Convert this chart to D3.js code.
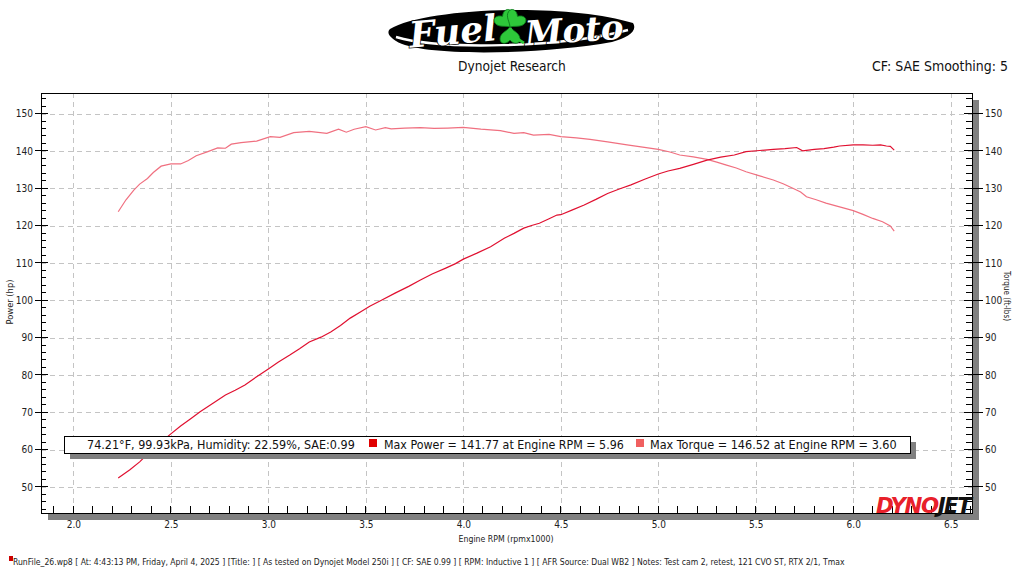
<!DOCTYPE html>
<html><head><meta charset="utf-8">
<script src="https://cdn.jsdelivr.net/npm/d3@7"></script>
<style>body{margin:0;background:#fff}svg{display:block}</style>
</head><body>
<svg id="c" width="1024" height="576"></svg>
<script>
// ---- DATA ----
const rpmPower = [2.23,2.29,2.34,2.40,2.46,2.50,2.55,2.60,2.65,2.72,2.78,2.83,2.88,2.94,3.00,3.05,3.11,3.16,3.21,3.27,3.32,3.37,3.42,3.47,3.52,3.58,3.65,3.72,3.78,3.84,3.91,3.96,4.00,4.07,4.14,4.21,4.26,4.31,4.35,4.39,4.44,4.48,4.50,4.56,4.62,4.68,4.74,4.80,4.86,4.93,5.00,5.05,5.11,5.18,5.25,5.32,5.39,5.45,5.52,5.59,5.65,5.71,5.74,5.80,5.85,5.90,5.93,6.00,6.05,6.10,6.14,6.17,6.19,6.21];
const powerHp  = [52.4,54.6,56.7,59.8,62.4,64.2,66.3,68.2,70.1,72.5,74.6,75.9,77.3,79.5,81.6,83.4,85.3,87.0,88.8,90.1,91.5,93.2,95.2,96.8,98.4,100.0,101.9,103.7,105.4,107.0,108.6,109.8,111.0,112.6,114.3,116.6,117.9,119.3,120.0,120.6,121.8,122.8,122.9,124.2,125.5,127.0,128.6,129.8,130.9,132.4,133.8,134.6,135.3,136.4,137.5,138.3,138.9,139.8,140.1,140.4,140.6,140.9,140.0,140.4,140.6,141.0,141.3,141.6,141.6,141.5,141.6,141.3,141.2,140.2];
const rpmTorque = [2.23,2.27,2.31,2.34,2.38,2.41,2.45,2.50,2.55,2.59,2.63,2.69,2.74,2.78,2.81,2.86,2.94,3.01,3.06,3.13,3.21,3.30,3.36,3.40,3.44,3.50,3.55,3.60,3.63,3.70,3.78,3.85,3.92,4.00,4.09,4.19,4.26,4.31,4.36,4.44,4.50,4.58,4.65,4.74,4.84,4.92,5.00,5.06,5.11,5.18,5.25,5.30,5.35,5.40,5.45,5.52,5.59,5.64,5.69,5.73,5.76,5.81,5.86,5.93,6.00,6.05,6.10,6.15,6.19,6.21];
const torqueFtlb = [123.7,126.9,129.5,131.1,132.6,134.2,135.9,136.5,136.5,137.4,138.7,139.8,140.8,140.7,141.8,142.2,142.6,143.8,143.6,144.9,145.2,144.7,145.8,145.0,145.8,146.5,145.6,146.2,145.9,146.1,146.2,146.0,146.1,146.3,145.8,145.4,144.7,144.9,144.2,144.4,143.8,143.5,143.1,142.4,141.6,141.0,140.4,139.7,138.9,138.4,137.7,137.0,136.2,135.4,134.4,133.3,132.2,131.2,130.0,129.0,127.7,126.9,126.0,125.0,124.0,123.0,121.9,121.0,119.9,118.5];
const xMajor = [2.0,2.5,3.0,3.5,4.0,4.5,5.0,5.5,6.0,6.5];
const yMajor = [50,60,70,80,90,100,110,120,130,140,150];
const legendTexts = ["74.21°F, 99.93kPa, Humidity: 22.59%, SAE:0.99","Max Power = 141.77 at Engine RPM = 5.96","Max Torque = 146.52 at Engine RPM = 3.60"];
const footerText = "RunFile_26.wp8 [ At: 4:43:13 PM, Friday, April 4, 2025 ] [Title: ]  [ As tested on Dynojet Model 250i ] [ CF: SAE 0.99 ] [ RPM: Inductive 1 ] [ AFR Source: Dual WB2 ] Notes: Test cam 2, retest, 121 CVO ST, RTX 2/1, Tmax";

// ---- LAYOUT ----
const L=41,R=972,T=93,B=513;
const FONT="'DejaVu Sans Condensed','Noto Sans',sans-serif";
const svg=d3.select("#c").style("font-family",FONT);
const x=d3.scaleLinear().domain([1.834,6.609]).range([L,R]);
const y=d3.scaleLinear().domain([43.0,155.5]).range([B,T]);
const cPow="#e01030", cTq="#f07080";
function fit(sel,w){const l=sel.node().getComputedTextLength();if(l>0)sel.attr("font-size",(+sel.attr("font-size"))*w/l);return sel;}

// logo (Fuel Moto)
const lg=svg.append("g");
lg.append("path").attr("d","M390,29 C425,8 565,2 633,23 C638,31 628,38 612,42 C540,55 420,57 396,41 C388,36 387,32 390,29 Z").attr("fill","#000");
lg.append("path").attr("d","M396,37 C440,50 560,48 628,30").attr("fill","none").attr("stroke","#fff").attr("stroke-width",2.5);
const sty=s=>s.attr("font-family","'DejaVu Serif',serif").attr("font-style","italic").attr("font-weight","bold").attr("fill","#fff").attr("stroke","#000").attr("stroke-width",1.4).attr("paint-order","stroke");
sty(lg.append("text").attr("x",454).attr("y",44).attr("text-anchor","middle").attr("font-size",36).attr("transform","rotate(-5,454,44)").text("Fuel"));
sty(lg.append("text").attr("x",575).attr("y",42).attr("text-anchor","middle").attr("font-size",34).attr("transform","rotate(-4,575,42)").text("Moto"));
const cl=lg.append("g").attr("fill","#2ec83a").attr("stroke","#0a7a1a").attr("stroke-width",0.8);
const heart="M0,0 C-3,-4 -10,-6 -10,-12 C-10,-17 -4,-18 0,-13 C4,-18 10,-17 10,-12 C10,-6 3,-4 0,0 Z";
[[-35,0],[35,0],[180,0]].forEach(p=>cl.append("path").attr("d",heart).attr("transform",`translate(510,27) rotate(${p[0]})`));
cl.append("path").attr("d","M510,28 Q514,38 524,43").attr("stroke","#2ec83a").attr("stroke-width",3).attr("fill","none");

fit(svg.append("text").attr("x",458).attr("y",71).attr("font-size",14).attr("fill","#111").text("Dynojet Research"),108);
fit(svg.append("text").attr("x",1008).attr("y",71).attr("text-anchor","end").attr("font-size",14).attr("fill","#111").text("CF: SAE Smoothing: 5"),136);

// plot shadow + frame background
svg.append("rect").attr("x",L+7).attr("y",T+7).attr("width",R-L).attr("height",B-T).attr("fill","#808080");
svg.append("rect").attr("x",L).attr("y",T).attr("width",R-L).attr("height",B-T).attr("fill","#fff");

// grid
const grid=svg.append("g").attr("stroke","#c4c4c4").attr("stroke-dasharray","5,4").attr("stroke-width",1);
xMajor.forEach(v=>grid.append("line").attr("x1",Math.round(x(v))+0.5).attr("x2",Math.round(x(v))+0.5).attr("y1",T).attr("y2",B));
yMajor.forEach(v=>grid.append("line").attr("y1",Math.round(y(v))+0.5).attr("y2",Math.round(y(v))+0.5).attr("x1",L).attr("x2",R));

// curves
const lineP=d3.line().x((d,i)=>x(rpmPower[i])).y(d=>y(d));
const lineT=d3.line().x((d,i)=>x(rpmTorque[i])).y(d=>y(d));
svg.append("path").datum(torqueFtlb).attr("d",lineT).attr("fill","none").attr("stroke",cTq).attr("stroke-width",1.2);
svg.append("path").datum(powerHp).attr("d",lineP).attr("fill","none").attr("stroke",cPow).attr("stroke-width",1.2);

// frame
svg.append("rect").attr("x",L+0.5).attr("y",T+0.5).attr("width",R-L).attr("height",B-T).attr("fill","none").attr("stroke","#000");

// axes
const minorX=d3.range(19,67).map(v=>v/10);
const minorY=d3.range(44,156,2);
const ax=svg.append("g").attr("stroke","#000").attr("shape-rendering","crispEdges");
minorX.forEach(v=>ax.append("line").attr("x1",x(v)).attr("x2",x(v)).attr("y1",B).attr("y2",B-7));
minorY.forEach(v=>{
  const maj=v%10===0;
  ax.append("line").attr("y1",y(v)).attr("y2",y(v)).attr("x1",maj?L-6:L).attr("x2",L+(maj?7:5));
  ax.append("line").attr("y1",y(v)).attr("y2",y(v)).attr("x1",R-(maj?8:6)).attr("x2",maj?R+11:R);
});
const tickStyle=g=>{g.select(".domain").remove();g.selectAll("text").attr("font-size",10).attr("font-family",FONT).attr("fill","#222");};
svg.append("g").attr("transform",`translate(0,${B})`).call(d3.axisBottom(x).tickValues(xMajor).tickSize(0).tickPadding(8).tickFormat(d3.format(".1f"))).call(tickStyle);
svg.append("g").attr("transform",`translate(${L},0)`).call(d3.axisLeft(y).tickValues(yMajor).tickSize(0).tickPadding(8)).call(tickStyle);
svg.append("g").attr("transform",`translate(${R},0)`).call(d3.axisRight(y).tickValues(yMajor).tickSize(0).tickPadding(13)).call(tickStyle);

fit(svg.append("text").attr("transform","translate(13,302) rotate(-90)").attr("text-anchor","middle").attr("font-size",10).attr("fill","#222").text("Power (hp)"),45);
fit(svg.append("text").attr("transform","translate(1004,296) rotate(90)").attr("text-anchor","middle").attr("font-size",10).attr("fill","#222").text("Torque (ft-lbs)"),50);
fit(svg.append("text").attr("x",506).attr("y",542).attr("text-anchor","middle").attr("font-size",10).attr("fill","#222").text("Engine RPM (rpmx1000)"),95);

// dynojet logo
const dj=svg.append("text").attr("x",876).attr("y",513).attr("font-family","'DejaVu Sans',sans-serif").attr("font-weight","bold").attr("font-style","italic").attr("font-size",19).attr("letter-spacing",-1.5);
dj.append("tspan").attr("fill","#e8202a").text("DYNO");
dj.append("tspan").attr("fill","#111").text("JET");
fit(dj,93);

// legend
svg.append("rect").attr("x",70).attr("y",442).attr("width",846).attr("height",17).attr("fill","#808080");
svg.append("rect").attr("x",64.5).attr("y",436.5).attr("width",846).attr("height",17).attr("fill","#fff").attr("stroke","#000");
const lx=[87,384,650], lw=[268,240,247];
legendTexts.forEach((t,i)=>fit(svg.append("text").attr("x",lx[i]).attr("y",449).attr("font-size",12).attr("fill","#111").text(t),lw[i]));
svg.append("rect").attr("x",369).attr("y",439).attr("width",8).attr("height",8).attr("fill","#e00000");
svg.append("rect").attr("x",636).attr("y",439).attr("width",8).attr("height",8).attr("fill","#f06060");

// footer
svg.append("rect").attr("x",9).attr("y",556).attr("width",4).attr("height",5).attr("fill","#c00");
fit(svg.append("text").attr("x",13).attr("y",565).attr("font-size",8).attr("fill","#222").text(footerText),833);
</script>
</body></html>
